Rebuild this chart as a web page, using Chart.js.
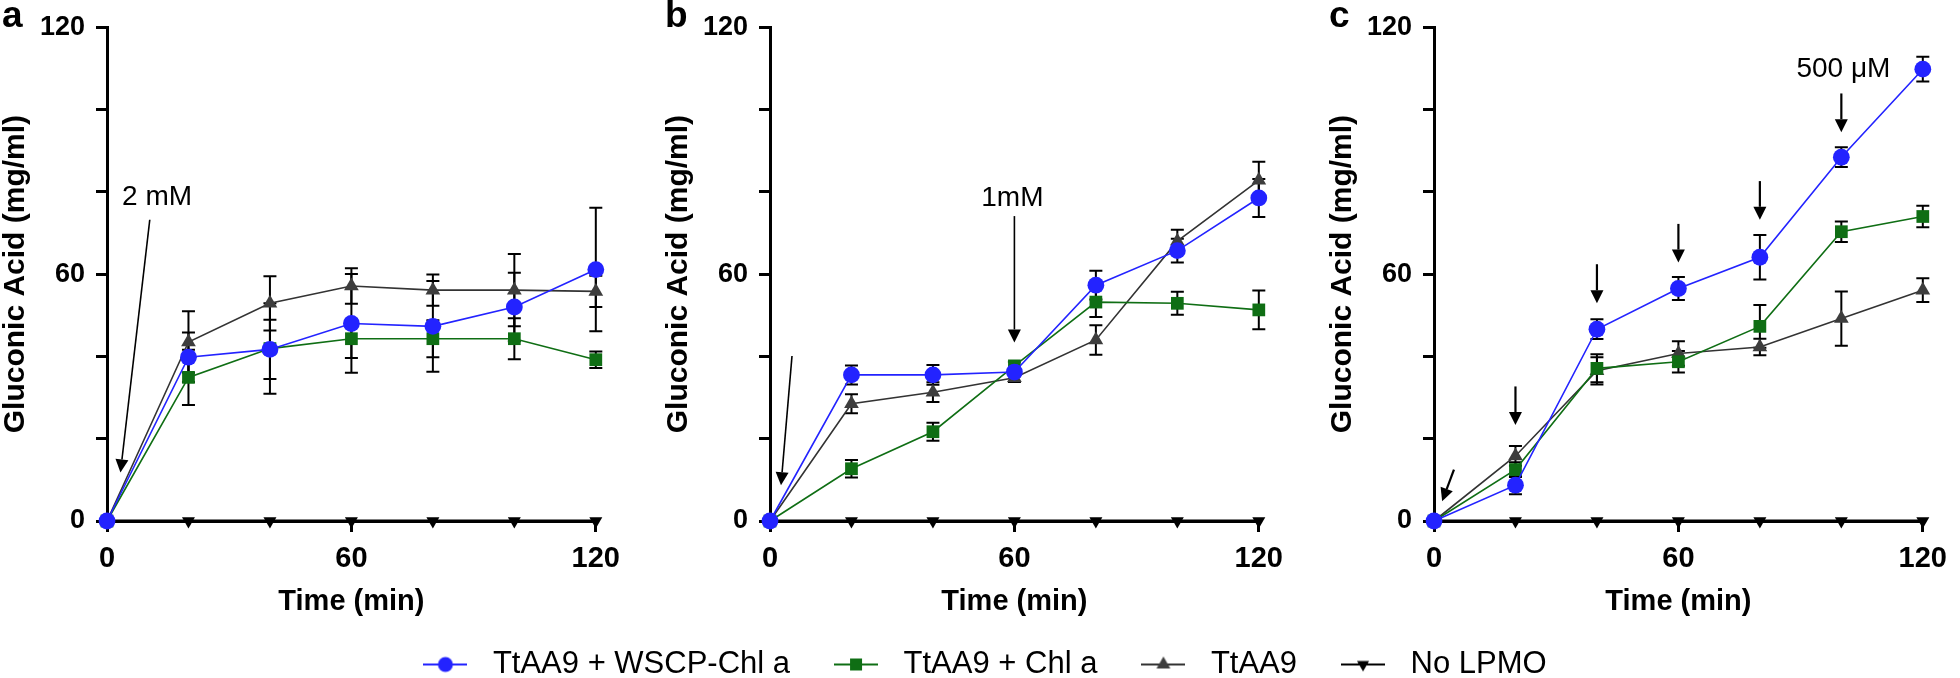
<!DOCTYPE html>
<html>
<head>
<meta charset="utf-8">
<script src="https://cdn.jsdelivr.net/npm/chart.js@4.4.1/dist/chart.umd.min.js"></script>
<style>
    html, body { margin: 0; padding: 0; background: #fff; }
    #wrap { position: relative; width: 1960px; height: 678px; overflow: hidden; }
    canvas { position: absolute; }
</style>
</head>
<body>
<div id="wrap">
    <canvas id="panelA" width="630" height="620" style="left:0px;top:0px"></canvas>
    <canvas id="panelB" width="630" height="620" style="left:663px;top:0px"></canvas>
    <canvas id="panelC" width="630" height="620" style="left:1327px;top:0px"></canvas>
    <canvas id="legendCanvas" width="1960" height="200" style="left:0px;top:575px"></canvas>
</div>
<script>
// --- Datos ---
const timeMin = [0, 20, 40, 60, 80, 100, 120];
const seriesNames = ['TtAA9 + WSCP-Chl a', 'TtAA9 + Chl a', 'TtAA9', 'No LPMO'];

// Panel a (2 mM)
const aWscp = [0, 39.8, 41.7, 48.0, 47.3, 52.0, 61.1];
const aChl = [0, 34.9, 41.9, 44.3, 44.3, 44.3, 39.2];
const aTtaa9 = [0, 43.5, 52.9, 57.1, 56.1, 56.1, 55.8];
const aNoLpmo = [0, 0, 0, 0, 0, 0, 0];
const aWscpErr = [0, 6, 7.2, 12, 11, 8.3, 15];
const aChlErr = [0, 6.7, 11, 4.7, 4.5, 5, 2];
const aTtaa9Err = [0, 7.5, 6.6, 4.3, 3.8, 8.8, 3.8];

// Panel b (1 mM)
const bWscp = [0, 35.5, 35.5, 36.2, 57.3, 65.7, 78.5];
const bChl = [0, 12.7, 21.7, 37.7, 53.2, 52.9, 51.3];
const bTtaa9 = [0, 28.5, 31.3, 34.8, 44.0, 68.0, 82.8];
const bNoLpmo = [0, 0, 0, 0, 0, 0, 0];
const bWscpErr = [0, 2.3, 2.4, 1, 3.5, 2.9, 4.6];
const bChlErr = [0, 2.1, 2.2, 1, 3.6, 2.8, 4.7];
const bTtaa9Err = [0, 2.3, 2.4, 1, 3.6, 2.8, 4.5];

// Panel c (500 µM)
const cWscp = [0, 8.7, 46.6, 56.5, 64.1, 88.4, 109.8];
const cChl = [0, 12.5, 37.1, 38.7, 47.3, 70.3, 74.0];
const cTtaa9 = [0, 15.8, 36.5, 40.7, 42.3, 49.2, 56.1];
const cNoLpmo = [0, 0, 0, 0, 0, 0, 0];
const cWscpErr = [0, 2.2, 2.4, 2.8, 5.4, 2.4, 3];
const cChlErr = [0, 1.8, 3.4, 2.6, 5.2, 2.5, 2.6];
const cTtaa9Err = [0, 2.4, 3.3, 3, 2, 6.6, 2.9];

const yTicks = [0, 60, 120];
const xTicks = [0, 60, 120];

// Anotaciones (texto y flechas, en unidades de los ejes)
const aNotes = [{ text: '2 mM', x: 12.3, y: 78.7 }];
const aArrows = [{ x1: 10.5, y1: 73.2, x2: 3.3, y2: 11.8, w: 1.6 }];
const bNotes = [{ text: '1mM', x: 59.5, y: 78.5 }];
const bArrows = [
    { x1: 60, y1: 74.1, x2: 60, y2: 43.4, w: 1.6 },
    { x1: 5.4, y1: 40.1, x2: 2.7, y2: 8.7, w: 1.6 }
];
const cNotes = [{ text: '500 μM', x: 100.5, y: 109.8 }];
const cArrows = [
    { x1: 20, y1: 32.7, x2: 20, y2: 23.3, w: 2.2 },
    { x1: 40, y1: 62.4, x2: 40, y2: 52.9, w: 2.2 },
    { x1: 60, y1: 72.2, x2: 60, y2: 62.8, w: 2.2 },
    { x1: 80, y1: 82.6, x2: 80, y2: 73.2, w: 2.2 },
    { x1: 100, y1: 103.9, x2: 100, y2: 94.5, w: 2.2 },
    { x1: 4.9, y1: 12.5, x2: 2.0, y2: 4.8, w: 2.2 }
];

// --- Estilos ---
const FONT = "'Liberation Sans', Arial, Helvetica, sans-serif";
const lineColors = ['#2323ff', '#0f6e14', '#333333', '#000000'];
const markerColors = ['#2323ff', '#0f6e14', '#3d3d3d', '#000000'];
const markerStyles = ['circle', 'rect', 'triangle', 'triangle'];
const markerRadius = [8.4, 9, 8.5, 7.5];
const markerRotation = [0, 0, 0, 180];
const lineWidths = [1.6, 1.6, 1.6, 3];

const decor = {
    panelA: { letter: 'a', notes: aNotes, arrows: aArrows },
    panelB: { letter: 'b', notes: bNotes, arrows: bArrows },
    panelC: { letter: 'c', notes: cNotes, arrows: cArrows }
};

function drawArrow(ctx, x1, y1, x2, y2, w) {
    const head = 13, half = 6.5;
    const ang = Math.atan2(y2 - y1, x2 - x1);
    const bx = x2 - head * Math.cos(ang), by = y2 - head * Math.sin(ang);
    ctx.lineWidth = w;
    ctx.beginPath();
    ctx.moveTo(x1, y1);
    ctx.lineTo(bx, by);
    ctx.stroke();
    ctx.beginPath();
    ctx.moveTo(x2, y2);
    ctx.lineTo(bx + half * Math.sin(ang), by - half * Math.cos(ang));
    ctx.lineTo(bx - half * Math.sin(ang), by + half * Math.cos(ang));
    ctx.closePath();
    ctx.fill();
}

// Barras de error, letra del panel y anotaciones
const panelDecor = {
    id: 'panelDecor',
    beforeDatasetsDraw(chart) {
        const { ctx, scales: { x, y } } = chart;
        ctx.save();
        ctx.strokeStyle = '#000';
        ctx.lineWidth = 2;
        chart.data.datasets.forEach(ds => {
            if (!ds.errors) return;
            ds.data.forEach((p, k) => {
                const e = ds.errors[k];
                if (!e) return;
                const px = x.getPixelForValue(p.x);
                const top = y.getPixelForValue(p.y + e);
                const bot = y.getPixelForValue(p.y - e);
                ctx.beginPath();
                ctx.moveTo(px, top); ctx.lineTo(px, bot);
                ctx.moveTo(px - 6.5, top); ctx.lineTo(px + 6.5, top);
                ctx.moveTo(px - 6.5, bot); ctx.lineTo(px + 6.5, bot);
                ctx.stroke();
            });
        });
        ctx.restore();
    },
    afterDraw(chart) {
        const info = decor[chart.canvas.id];
        if (!info) return;
        const { ctx, scales: { x, y } } = chart;
        ctx.save();
        ctx.fillStyle = '#000';
        ctx.strokeStyle = '#000';
        ctx.font = `bold 37px ${FONT}`;
        ctx.textAlign = 'left';
        ctx.textBaseline = 'alphabetic';
        ctx.fillText(info.letter, 2, 27);

        ctx.font = `28px ${FONT}`;
        ctx.textAlign = 'center';
        ctx.textBaseline = 'middle';
        info.notes.forEach(n => ctx.fillText(n.text, x.getPixelForValue(n.x), y.getPixelForValue(n.y)));
        info.arrows.forEach(a => drawArrow(ctx,
            x.getPixelForValue(a.x1), y.getPixelForValue(a.y1),
            x.getPixelForValue(a.x2), y.getPixelForValue(a.y2), a.w));
        ctx.restore();
    }
};

function makePanel(id, series, errors) {
    const datasets = series.map((vals, i) => ({
        label: seriesNames[i],
        data: timeMin.map((t, k) => ({ x: t, y: vals[k] })),
        errors: errors[i] || null,
        borderColor: lineColors[i],
        borderWidth: lineWidths[i],
        backgroundColor: markerColors[i],
        pointBackgroundColor: markerColors[i],
        pointBorderWidth: 0,
        pointStyle: markerStyles[i],
        pointRadius: markerRadius[i],
        pointRotation: markerRotation[i],
        tension: 0,
        clip: false
    }));

    const axisBase = {
        type: 'linear',
        min: 0,
        max: 120,
        border: { display: true, color: '#000', width: 3 },
        grid: { drawOnChartArea: false, drawTicks: true, tickLength: 11, tickWidth: 3, tickColor: '#000' }
    };

    return new Chart(document.getElementById(id), {
        type: 'line',
        data: { datasets },
        options: {
            responsive: false,
            animation: false,
            devicePixelRatio: 1,
            layout: { padding: { left: 0, right: 20, top: 21, bottom: 0 } },
            plugins: { legend: { display: false }, tooltip: { enabled: false } },
            scales: {
                x: {
                    ...axisBase,
                    afterBuildTicks: s => { s.ticks = xTicks.map(v => ({ value: v })); },
                    ticks: { color: '#000', font: { family: FONT, size: 29, weight: 'bold' }, padding: 10, maxRotation: 0 },
                    title: { display: true, text: 'Time (min)', color: '#000', font: { family: FONT, size: 29, weight: 'bold' }, padding: { top: 0, bottom: 1 } },
                    afterFit: s => { s.height = 99; }
                },
                y: {
                    ...axisBase,
                    ticks: {
                        stepSize: 20,
                        color: '#000',
                        font: { family: FONT, size: 27, weight: 'bold' },
                        padding: 11,
                        callback: v => yTicks.includes(v) ? v : ''
                    },
                    title: { display: true, text: 'Gluconic Acid (mg/ml)', color: '#000', font: { family: FONT, size: 30, weight: 'bold' }, padding: { top: -2, bottom: 0 } },
                    afterFit: s => { s.width = 107; }
                }
            }
        },
        plugins: [panelDecor]
    });
}

makePanel('panelA', [aWscp, aChl, aTtaa9, aNoLpmo], [aWscpErr, aChlErr, aTtaa9Err]);
makePanel('panelB', [bWscp, bChl, bTtaa9, bNoLpmo], [bWscpErr, bChlErr, bTtaa9Err]);
makePanel('panelC', [cWscp, cChl, cTtaa9, cNoLpmo], [cWscpErr, cChlErr, cTtaa9Err]);

// --- Leyenda (línea + marcador) ---
function legendGlyph(i) {
    const c = document.createElement('canvas');
    c.width = 44;
    c.height = 24;
    const g = c.getContext('2d');
    g.strokeStyle = lineColors[i];
    g.lineWidth = 2;
    g.beginPath();
    g.moveTo(0, 12);
    g.lineTo(44, 12);
    g.stroke();
    g.fillStyle = markerColors[i];
    Chart.helpers.drawPoint(g, {
        pointStyle: markerStyles[i],
        radius: [7.5, 8.5, 8, 7][i],
        rotation: markerRotation[i],
        borderWidth: 0
    }, 22, 12);
    return c;
}
const glyphs = seriesNames.map((_, i) => legendGlyph(i));

new Chart(document.getElementById('legendCanvas'), {
    type: 'line',
    data: { datasets: seriesNames.map(n => ({ label: n, data: [] })) },
    options: {
        responsive: false,
        animation: false,
        devicePixelRatio: 1,
        layout: { padding: { top: 40 } },
        scales: { x: { display: false }, y: { display: false } },
        plugins: {
            tooltip: { enabled: false },
            legend: {
                display: true,
                position: 'top',
                align: 'center',
                labels: {
                    usePointStyle: true,
                    pointStyleWidth: 64,
                    boxHeight: 24,
                    padding: 34,
                    color: '#000',
                    font: { family: FONT, size: 31 },
                    generateLabels: () => seriesNames.map((n, i) => ({
                        text: n,
                        pointStyle: glyphs[i],
                        fillStyle: '#000',
                        strokeStyle: '#000',
                        lineWidth: 0,
                        hidden: false,
                        datasetIndex: i,
                        fontColor: '#000'
                    }))
                }
            }
        }
    }
});
</script>
</body>
</html>
